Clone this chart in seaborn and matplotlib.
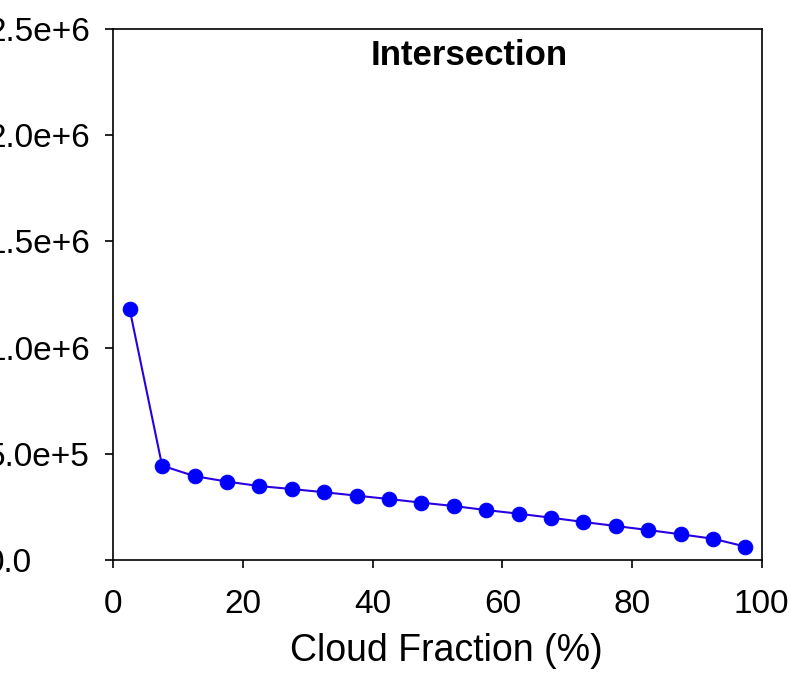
import numpy as np
import seaborn as sns
import matplotlib.pyplot as plt
import matplotlib.transforms as mtransforms
import pandas as pd

# Cloud fraction bin centres and intersection counts
cloud_fraction = [2.5, 7.5, 12.5, 17.5, 22.5, 27.5, 32.5, 37.5, 42.5, 47.5,
                  52.5, 57.5, 62.5, 67.5, 72.5, 77.5, 82.5, 87.5, 92.5, 97.5]
intersection = [1.18e6, 4.44e5, 3.95e5, 3.69e5, 3.48e5, 3.34e5, 3.19e5,
                3.03e5, 2.87e5, 2.70e5, 2.54e5, 2.35e5, 2.18e5, 1.99e5,
                1.79e5, 1.60e5, 1.41e5, 1.21e5, 1.00e5, 0.63e5]

y_ticks = [0, 5e5, 1e6, 1.5e6, 2e6, 2.5e6]
y_tick_labels = ["0.0", "5.0e+5", "1.0e+6", "1.5e+6", "2.0e+6", "2.5e+6"]
x_ticks = [0, 20, 40, 60, 80, 100]

df = pd.DataFrame({"Cloud Fraction": cloud_fraction,
                   "Intersection": intersection})

sns.set_style("ticks")
plt.rcParams["font.family"] = ["Liberation Sans", "DejaVu Sans"]
plt.rcParams["text.color"] = "black"
plt.rcParams["axes.labelcolor"] = "black"
plt.rcParams["xtick.color"] = "black"
plt.rcParams["ytick.color"] = "black"

fig = plt.figure(figsize=(7.92, 6.86), dpi=100)
ax = fig.add_axes([0.1433, 0.1837, 0.8184, 0.7740])

sns.lineplot(
    data=df,
    x="Cloud Fraction",
    y="Intersection",
    ax=ax,
    color="#2a00e0",
    linewidth=1.5,
    marker="o",
    markersize=10.5,
    markerfacecolor="#0000ff",
    markeredgecolor="#0000ff",
)

ax.set_xlim(0, 100)
ax.set_ylim(0, 2.5e6)
ax.set_xticks(x_ticks)
ax.set_yticks(y_ticks)
ax.set_yticklabels(y_tick_labels)
ax.tick_params(axis="both", direction="out", length=6, width=1.2,
               labelsize=24, colors="black")
ax.tick_params(axis="y", pad=11)
ax.tick_params(axis="x", pad=15)
for side in ["top", "right", "left", "bottom"]:
    ax.spines[side].set_visible(True)
    ax.spines[side].set_linewidth(1.2)
    ax.spines[side].set_color("black")

# the "0.0" label sits further left than the others in the original
zero_label = ax.yaxis.get_major_ticks()[0].label1
zero_label.set_transform(zero_label.get_transform()
                         + mtransforms.ScaledTranslation(-0.58, 0,
                                                         fig.dpi_scale_trans))

ax.set_xlabel("Cloud Fraction (%)", fontsize=27, labelpad=9)
ax.xaxis.label.set_x(0.513)
ax.set_ylabel("")
ax.text(0.548, 0.95, "Intersection", transform=ax.transAxes,
        ha="center", va="center", fontsize=25, fontweight="bold")

fig.savefig("out.png", dpi=100)
